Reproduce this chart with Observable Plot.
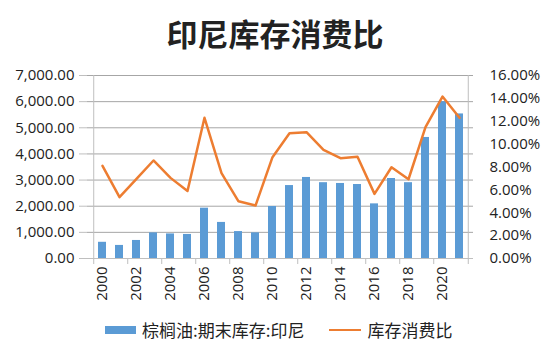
<!DOCTYPE html>
<html><head><meta charset="utf-8">
<script src="https://cdn.jsdelivr.net/npm/d3@7"></script>
<script src="https://cdn.jsdelivr.net/npm/@observablehq/plot@0.6"></script>
<style>
body{margin:0;background:#fff;}
#wrap{position:relative;width:550px;height:356px;font-family:"Noto Sans CJK SC",sans-serif;color:#222;}
#title{position:absolute;left:0;top:12px;width:550px;text-align:center;font-size:31px;font-weight:bold;line-height:42px;}
#chart{position:absolute;left:0;top:60px;}
#legend{position:absolute;left:105px;top:319px;height:22px;display:flex;align-items:center;font-size:17px;line-height:22px;}
.sw-bar{width:31px;height:8px;background:#5B9BD5;margin-right:6px;}
.sw-line{width:32px;height:2.5px;background:#ED7D31;margin-left:25px;margin-right:6px;}
</style></head>
<body><div id="wrap">
<div id="title">印尼库存消费比</div>
<div id="chart"></div>
<div id="legend"><span class="sw-bar"></span><span id="l1"></span><span class="sw-line"></span><span id="l2"></span></div>
</div>
<script>
const years = ["2000","2001","2002","2003","2004","2005","2006","2007","2008","2009","2010","2011","2012","2013","2014","2015","2016","2017","2018","2019","2020","2021"];
const stocks = [620,500,690,980,940,920,1925,1380,1030,980,1990,2790,3100,2900,2870,2830,2090,3060,2900,4630,6000,5530];
const ratios = [8.1,5.36,6.97,8.57,7.05,5.9,12.3,7.46,5.0,4.63,8.86,10.95,11.04,9.5,8.77,8.89,5.65,7.98,6.93,11.48,14.16,12.3];
const leftTicks = [0,1000,2000,3000,4000,5000,6000,7000];
const rightTicks = [0,2,4,6,8,10,12,14,16];
const labeledYears = ["2000","2002","2004","2006","2008","2010","2012","2014","2016","2018","2020"];
const seriesNames = ["棕榈油:期末库存:印尼","库存消费比"];

document.getElementById("l1").textContent = seriesNames[0];
document.getElementById("l2").textContent = seriesNames[1];

const leftMax = 7000, rightMax = 16;
const k = leftMax / rightMax;
const data = years.map((y, i) => ({year: y, stock: stocks[i], ratio: ratios[i]}));

const W = 550, ML = 87, MR = 77;
const step = (W - ML - MR) / years.length;
const font = "'Open Sans', sans-serif";

const chart = Plot.plot({
  width: W, height: 248,
  marginLeft: ML, marginRight: MR, marginTop: 15, marginBottom: 50,
  style: {fontFamily: font, fontSize: "15px", color: "#222", background: "#fff"},
  x: {type: "band", domain: years, paddingInner: 0.55, paddingOuter: 0.275, align: 0.5, label: null},
  y: {domain: [0, leftMax], label: null},
  marks: [
    Plot.gridY(leftTicks, {stroke: "#a6a6a6", strokeOpacity: 1}),
    Plot.barY(data, {x: "year", y: "stock", fill: "#5B9BD5"}),
    Plot.lineY(data, {x: "year", y: d => d.ratio * k, stroke: "#ED7D31", strokeWidth: 2.5, strokeLinejoin: "round"}),
    Plot.ruleX([years[0]], {dx: -step/2, stroke: "#bfbfbf"}),
    Plot.ruleX([years[years.length-1]], {dx: step/2, stroke: "#bfbfbf"}),
    Plot.ruleY([0], {stroke: "#bfbfbf"}),
    Plot.axisY({anchor: "left", ticks: leftTicks, tickFormat: d3.format(",.2f"), tickSize: 8, tickPadding: 5, stroke: "#bfbfbf", fontSize: 15, label: null}),
    Plot.axisY({anchor: "right", ticks: rightTicks.map(v => v * k), tickFormat: v => (v / k).toFixed(2) + "%", tickSize: 0, tickPadding: 16, fontSize: 15, label: null}),
    Plot.axisX({ticks: labeledYears, tickFormat: () => "", tickSize: 6, dx: -step/2, stroke: "#bfbfbf", label: null}),
    Plot.axisX({ticks: [years[years.length-1]], tickFormat: () => "", tickSize: 6, dx: step/2, stroke: "#bfbfbf", label: null}),
    Plot.axisX({ticks: labeledYears, tickRotate: -90, tickSize: 0, tickPadding: 8, fontSize: 15, label: null})
  ]
});
document.getElementById("chart").appendChild(chart);
</script>
</body></html>
